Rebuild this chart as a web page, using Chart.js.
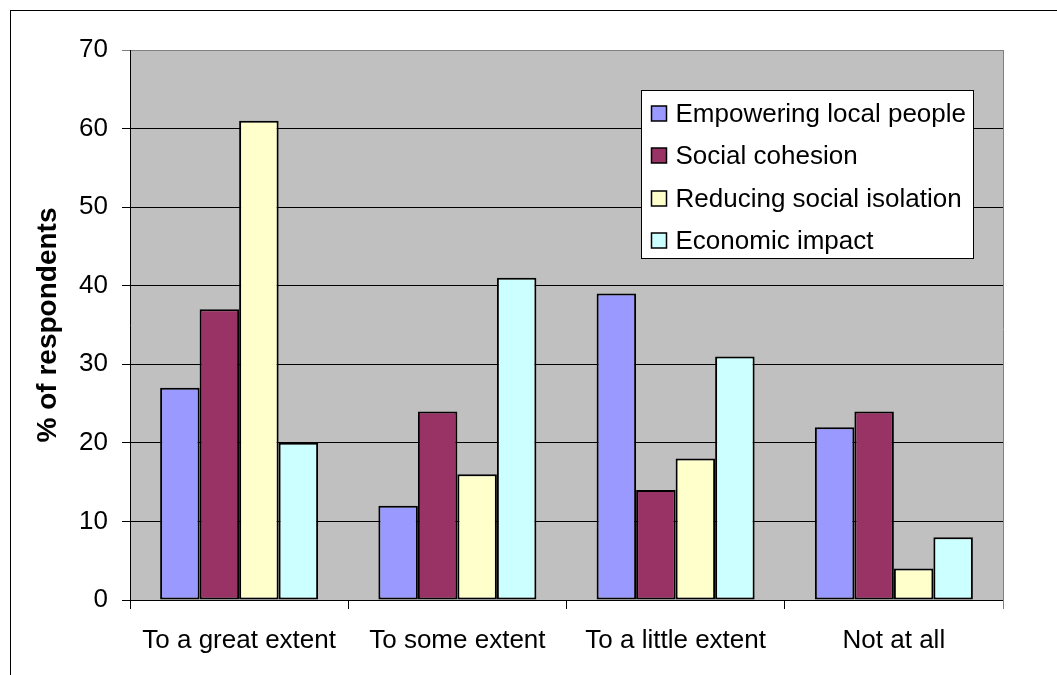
<!DOCTYPE html>
<html>
<head>
<meta charset="utf-8">
<title>% of respondents</title>
<script src="https://cdn.jsdelivr.net/npm/chart.js@4/dist/chart.umd.min.js"></script>
<style>
  body { margin: 0; background: #fff; }
  #wrap { width: 1057px; height: 675px; position: relative; }
</style>
</head>
<body>
<div id="wrap"><canvas id="myChart"></canvas></div>
<script>
// Data
const categories = ["To a great extent", "To some extent", "To a little extent", "Not at all"];
const seriesNames = ["Empowering local people", "Social cohesion", "Reducing social isolation", "Economic impact"];
const empowering = [27, 12, 39, 22];
const cohesion = [37, 24, 14, 24];
const isolation = [61, 16, 18, 4];
const economic = [20, 41, 31, 8];
const yTicks = [0, 10, 20, 30, 40, 50, 60, 70];

const colors = ["#9999FF", "#993366", "#FFFFCC", "#CCFFFF"];
const FONT = "'Liberation Sans', Arial, sans-serif";

// grey plot area, outer frame, right plot edge
const backdrop = {
  id: "backdrop",
  beforeDraw(chart) {
    const { ctx, chartArea: a } = chart;
    ctx.save();
    ctx.fillStyle = "#C0C0C0";
    ctx.fillRect(a.left, a.top, a.right - a.left, a.bottom - a.top);
    ctx.strokeStyle = "#000";
    ctx.lineWidth = 1;
    ctx.strokeRect(10.5, 10.5, chart.width + 20, chart.height + 20);
    ctx.restore();
  },
  afterDraw(chart) {
    const { ctx, chartArea: a } = chart;
    ctx.save();
    ctx.strokeStyle = "#808080";
    ctx.lineWidth = 1;
    ctx.beginPath();
    ctx.moveTo(Math.round(a.right) + 0.5, a.top);
    ctx.lineTo(Math.round(a.right) + 0.5, a.bottom + 9);
    ctx.stroke();
    ctx.restore();
  },
};

// boxed legend inside the plot, top right
const boxLegend = {
  id: "boxLegend",
  afterDraw(chart) {
    const { ctx, chartArea: a } = chart;
    const x = Math.round(a.right) - 362 + 0.5;
    const y = Math.round(a.top) + 40 + 0.5;
    const w = 332, h = 168;
    ctx.save();
    ctx.fillStyle = "#fff";
    ctx.fillRect(x, y, w, h);
    ctx.strokeStyle = "#000";
    ctx.lineWidth = 1;
    ctx.strokeRect(x, y, w, h);
    ctx.font = "26px " + FONT;
    ctx.textBaseline = "middle";
    chart.data.datasets.forEach((ds, k) => {
      const cy = y + 23 + k * 42.5;
      ctx.fillStyle = ds.backgroundColor;
      ctx.fillRect(x + 10, Math.round(cy - 8), 15, 15);
      ctx.lineWidth = 1.5;
      ctx.strokeRect(x + 10, Math.round(cy - 8), 15, 15);
      ctx.fillStyle = "#000";
      ctx.fillText(ds.label, x + 34, cy + 1);
    });
    ctx.restore();
  },
};

const ctx = document.getElementById("myChart");

new Chart(ctx, {
  type: "bar",
  data: {
    labels: categories,
    datasets: [empowering, cohesion, isolation, economic].map((vals, k) => ({
      label: seriesNames[k],
      data: vals,
      backgroundColor: colors[k],
      borderColor: "#000",
      borderWidth: 2,
      borderSkipped: false,
      categoryPercentage: 0.724,
      barPercentage: 1,
    })),
  },
  options: {
    responsive: true,
    maintainAspectRatio: false,
    animation: false,
    layout: { padding: { left: 0, top: 50, right: 54, bottom: 0 } },
    plugins: {
      legend: { display: false },
      tooltip: { enabled: false },
    },
    scales: {
      y: {
        min: 0,
        max: 70,
        afterBuildTicks: (scale) => {
          scale.ticks = yTicks.map((v) => ({ value: v }));
        },
        afterFit: (scale) => {
          scale.width = 130;
        },
        ticks: {
          color: "#000",
          font: { family: FONT, size: 26 },
          padding: 14,
        },
        grid: {
          color: (c) => (c.tick && c.tick.value === 70 ? "#808080" : "#000"),
          tickLength: 8,
          lineWidth: 1,
        },
        border: { color: "#000", width: 1 },
        title: {
          display: true,
          text: "% of respondents",
          color: "#000",
          font: { family: FONT, size: 28, weight: "bold" },
          padding: { top: 31, bottom: 0 },
        },
      },
      x: {
        afterFit: (scale) => {
          scale.height = 75;
        },
        ticks: {
          color: "#000",
          font: { family: FONT, size: 26 },
          padding: 16,
          maxRotation: 0,
        },
        grid: {
          drawOnChartArea: false,
          color: "#000",
          tickLength: 9,
        },
        border: { color: "#000", width: 1 },
      },
    },
  },
  plugins: [backdrop, boxLegend],
});
</script>
</body>
</html>
